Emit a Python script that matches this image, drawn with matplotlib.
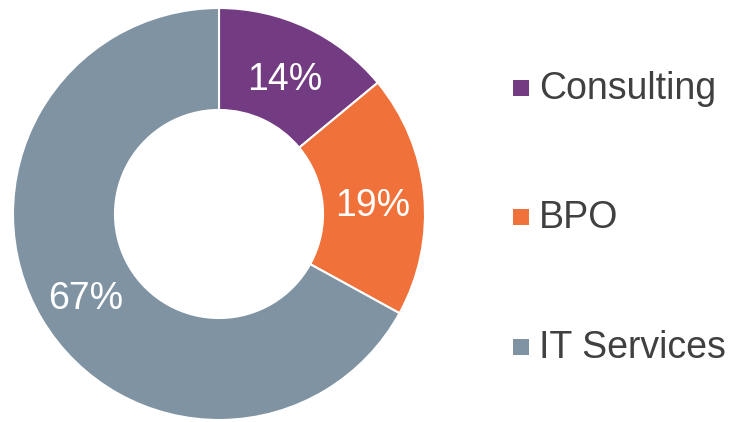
import matplotlib.pyplot as plt
from matplotlib.patches import Rectangle

plt.rcParams['font.family'] = ['Liberation Sans', 'DejaVu Sans']

# Data
segments = ["Consulting", "BPO", "IT Services"]
shares = [14, 19, 67]
colors = ["#733C82", "#F07139", "#7F93A3"]

W, H = 730, 422
fig = plt.figure(figsize=(W / 100, H / 100), dpi=100)

# donut axes: centre (219, 214) px, radius 206 px
cx, cy, r = 219, 214, 206
ax = fig.add_axes([(cx - r) / W, (H - cy - r) / H, 2 * r / W, 2 * r / H])
wedges, texts, autotexts = ax.pie(
    shares, colors=colors, startangle=90, counterclock=False,
    radius=1.0, autopct=lambda p: f"{p:.0f}%", pctdistance=0.75,
    wedgeprops=dict(width=0.495, edgecolor="white", linewidth=1.5),
    textprops=dict(color="white", fontsize=27),
)
for t in autotexts:
    x, y = t.get_position()
    t.set_position((x, y - 0.03))
ax.set_xlim(-1, 1)
ax.set_ylim(-1, 1)
ax.set_aspect("equal")
ax.axis("off")

# legend, drawn by hand to match spacing
ys = [88, 217, 347]
for name, col, y in zip(segments, colors, ys):
    fig.patches.append(Rectangle((513 / W, (H - y - 8) / H), 16 / W, 16 / H,
                                 facecolor=col, edgecolor="none",
                                 transform=fig.transFigure))
    fig.text(539 / W, (H - y - 1) / H, name, fontsize=27, color="#404040",
             va="center", ha="left")

fig.savefig("out.png", dpi=100)
